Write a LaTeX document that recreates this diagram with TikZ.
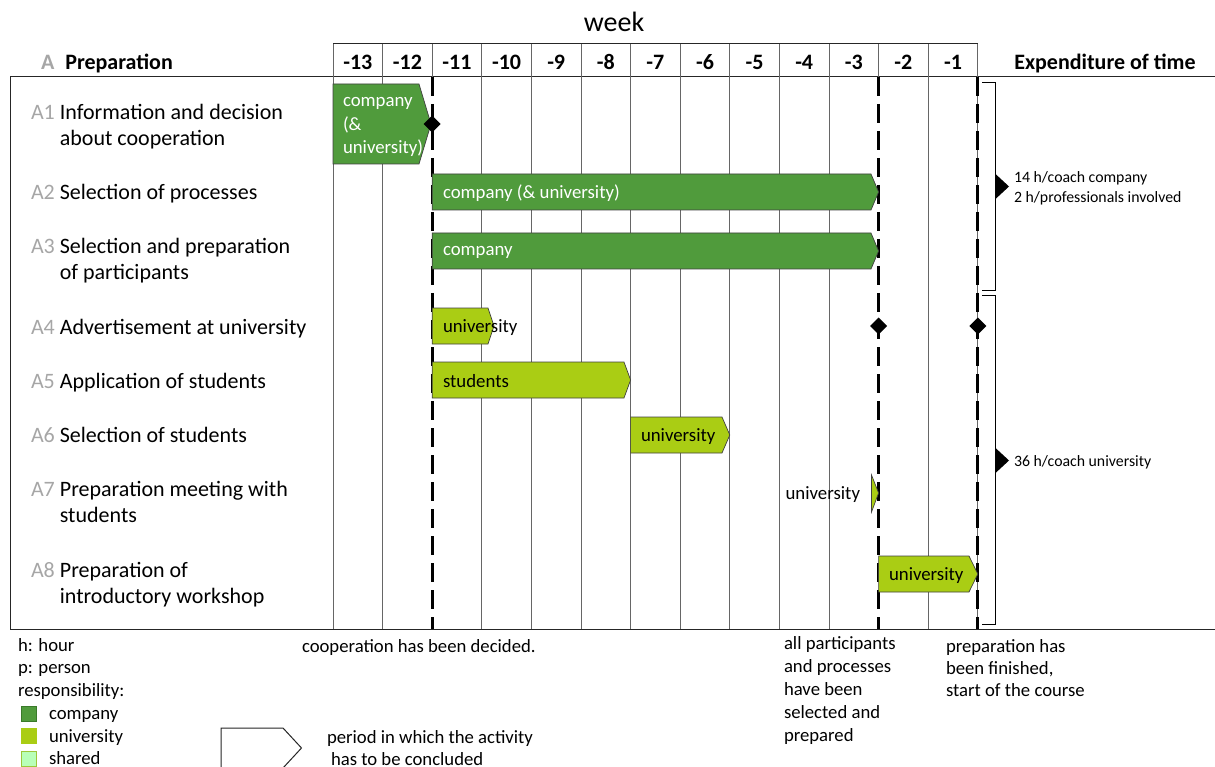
\documentclass[tikz,border=0pt]{standalone}
\usepackage{fontspec}
\setmainfont{Carlito}
\usetikzlibrary{shapes.geometric}
\definecolor{compgreen}{HTML}{509B3C}
\definecolor{compedge}{HTML}{3A7A2A}
\definecolor{unigreen}{HTML}{AACD14}
\definecolor{sharedgreen}{HTML}{B8FFB8}
\definecolor{sharededge}{HTML}{9CC83A}
\definecolor{idgray}{HTML}{A6A6A6}
% a left-aligned block of lines whose first baseline is the node's baseline
\newcommand\stack[1]{\begin{tabular}[t]{@{}l@{}}#1\end{tabular}}
% activity label: grey id, then the (possibly two-line) description
\newcommand\rowlabel[2]{\begin{tabular}{@{}l@{\hspace{5pt}}l@{}}\textcolor{idgray}{#1} & #2\end{tabular}}

\begin{document}
\begin{tikzpicture}[x=1pt,y=-1pt,
  every node/.style={inner sep=0pt, outer sep=0pt},
  grid/.style={draw=black!60, line width=0.75pt},
  rule/.style={draw=black!85, line width=1pt},
  milestone/.style={draw=black, line width=2.6pt, dash pattern=on 19pt off 8pt},
  compbar/.style={fill=compgreen, draw=black!75, line width=0.7pt},
  unibar/.style={fill=unigreen, draw=black!75, line width=0.7pt},
  rowtxt/.style={font=\fontsize{22}{26}\selectfont, anchor=west},
  headtxt/.style={font=\fontsize{22}{26}\selectfont\bfseries},
  bartxt/.style={font=\fontsize{18.8}{23.5}\selectfont, anchor=west, align=left},
  notetxt/.style={font=\fontsize{18.7}{22.6}\selectfont, anchor=base west},
  smalltxt/.style={font=\fontsize{15.8}{20}\selectfont, anchor=west, align=left},
  milestonemark/.style={diamond, fill=black, minimum size=17pt},
  legendbox/.style={minimum size=15pt, line width=1pt},
]
\useasboundingbox (0,0) rectangle (1215,767);

% ---- titles ----
\node[font=\fontsize{28}{32}\selectfont] (week) at (614,22) {week};
\node[headtxt, anchor=west] (prep) at (41,63) {\textcolor{idgray}{A}\hspace{11pt}Preparation};
\node[headtxt] (expend) at (1105,63) {Expenditure of time};

% ---- frame and week grid ----
\draw[rule] (333,44) -- (978,44);
\draw[rule] (10,77) -- (1215,77);
\draw[rule] (10,629) -- (1215,629);
\draw[rule] (10,77) -- (10,629);
% week separators; the ones under a milestone are only solid in the header
\foreach \i in {0,1,3,4,5,6,7,8,9,10,12,13}
  \draw[grid] ({333+\i*49.6},44) -- ({333+\i*49.6},629);
\foreach \i in {2,11}
  \draw[grid] ({333+\i*49.6},44) -- ({333+\i*49.6},77);
\foreach \n [count=\i from 0] in {-13,-12,-11,-10,-9,-8,-7,-6,-5,-4,-3,-2,-1}
  \node[headtxt] (wk\i) at ({333+(\i+0.5)*49.6},62) {\n};

% milestone lines
\foreach \x in {432.2,878.6,977.3}
  \draw[milestone] (\x,77) -- (\x,629);

% ---- activity labels ----
\node[rowtxt] (a1) at (31,127) {\rowlabel{A1}{Information and decision\\ & about cooperation}};
\node[rowtxt] (a2) at (31,194) {\rowlabel{A2}{Selection of processes}};
\node[rowtxt] (a3) at (31,261.5) {\rowlabel{A3}{Selection and preparation\\ & of participants}};
\node[rowtxt] (a4) at (31,329) {\rowlabel{A4}{Advertisement at university}};
\node[rowtxt] (a5) at (31,383) {\rowlabel{A5}{Application of students}};
\node[rowtxt] (a6) at (31,437) {\rowlabel{A6}{Selection of students}};
\node[rowtxt] (a7) at (31,504.5) {\rowlabel{A7}{Preparation meeting with\\ & students}};
\node[rowtxt] (a8) at (31,585.5) {\rowlabel{A8}{Preparation of\\ & introductory workshop}};

% ---- activity bars ----
\draw[compbar] (333,84) -- (419,84) -- (431,124) -- (419,164) -- (333,164) -- cycle;
\node[bartxt, text=white] (a1bar) at (343,127) {company\\(\&\\university)};

\draw[compbar] (432.2,174) -- (871,174) -- (878.6,192) -- (871,210) -- (432.2,210) -- cycle;
\node[bartxt, text=white] (a2bar) at (443,193.5) {company (\& university)};

\draw[compbar] (432.2,233) -- (871,233) -- (878.6,251) -- (871,269) -- (432.2,269) -- cycle;
\node[bartxt, text=white] (a3bar) at (443,252.5) {company};

\draw[unibar] (432.2,308) -- (488,308) -- (494,326) -- (488,344) -- (432.2,344) -- cycle;
\node[bartxt] (a4bar) at (443,327.5) {university};

\draw[unibar] (432.2,362) -- (624,362) -- (630.6,380) -- (624,398) -- (432.2,398) -- cycle;
\node[bartxt] (a5bar) at (443,381.5) {students};

\draw[unibar] (630.6,417) -- (722,417) -- (729.8,435) -- (722,453) -- (630.6,453) -- cycle;
\node[bartxt] (a6bar) at (641,436.5) {university};

\draw[unibar] (871.5,475) -- (878.6,493) -- (871.5,512) -- cycle;
\node[bartxt, anchor=east] (a7bar) at (860,494.5) {university};

\draw[unibar] (878.6,556) -- (969,556) -- (977.8,574) -- (969,592) -- (878.6,592) -- cycle;
\node[bartxt] (a8bar) at (889,575.5) {university};

% ---- milestones ----
\node[milestonemark] (m1) at (432.2,124) {};
\node[milestonemark] (m2) at (878.6,326) {};
\node[milestonemark] (m3) at (977.8,326) {};

% ---- expenditure brackets ----
\draw[draw=black, line width=0.9pt] (982,82) -- (995.5,82) -- (995.5,290) -- (982,290);
\fill (995.5,174) -- (1009,186.5) -- (995.5,199) -- cycle;
\node[smalltxt] (t1) at (1014,188) {14 h/coach company\\2 h/professionals involved};

\draw[draw=black, line width=0.9pt] (982,295) -- (995.5,295) -- (995.5,624) -- (982,624);
\fill (995.5,448) -- (1009,460.5) -- (995.5,473) -- cycle;
\node[smalltxt] (t2) at (1014,462) {36 h/coach university};

% ---- milestone notes ----
\node[notetxt] (n1) at (302,652) {cooperation has been decided.};
\node[notetxt, font=\fontsize{18.7}{23}\selectfont] (n2) at (784,649) {\stack{all participants\\and processes\\have been\\selected and\\prepared}};
\node[notetxt, font=\fontsize{18.7}{22.3}\selectfont] (n3) at (946,652) {\stack{preparation has\\been finished,\\start of the course}};

% ---- legend ----
\node[notetxt] (abbr) at (18,651) {\stack{h: hour\\p: person\\responsibility:}};
\node[legendbox, fill=compgreen, draw=compedge] (sqc) at (28.5,713.5) {};
\node[legendbox, fill=unigreen, draw=unigreen] (squ) at (28.5,736) {};
\node[legendbox, fill=sharedgreen, draw=sharededge] (sqs) at (28.5,758.5) {};
\node[notetxt] (legc) at (49,719) {company};
\node[notetxt] (legu) at (49,742) {university};
\node[notetxt] (legs) at (49,764) {shared};

\draw[draw=black!85, line width=1pt, fill=white] (221,768) -- (221,728) -- (283,728) -- (301.5,748) -- (283,768) -- cycle;
\node[notetxt] (period) at (327,743) {\stack{period in which the activity\\\hspace{4pt}has to be concluded}};
\end{tikzpicture}
\end{document}
